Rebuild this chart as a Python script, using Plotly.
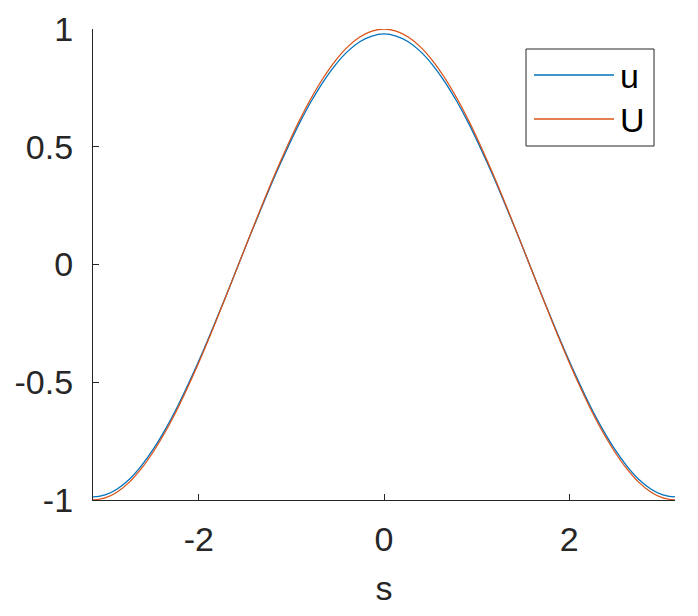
import plotly.graph_objects as go
import math

# sample positions: -pi .. pi in steps of pi/24
s_vals = [-math.pi + k * math.pi / 24 for k in range(49)]

U_half = [-1.000, -0.991, -0.966, -0.924, -0.866, -0.793, -0.707, -0.609, -0.500, -0.383, -0.259, -0.131, 0.000,
          0.131, 0.259, 0.383, 0.500, 0.609, 0.707, 0.793, 0.866, 0.924, 0.966, 0.991, 1.000]
u_half = [-0.987, -0.978, -0.953, -0.912, -0.854, -0.782, -0.697, -0.600, -0.492, -0.377, -0.255, -0.129, 0.000,
          0.129, 0.254, 0.376, 0.490, 0.597, 0.693, 0.777, 0.848, 0.905, 0.946, 0.970, 0.979]
U_vals = U_half + U_half[-2::-1]
u_vals = u_half + u_half[-2::-1]

x_ticks = [-2, 0, 2]
x_tick_text = ["-2", "0", "2"]
y_ticks = [-1, -0.5, 0, 0.5, 1]
y_tick_text = ["-1", "-0.5", "0", "0.5", "1"]
names = ["u", "U"]
colors = ["#0072BD", "#D95319"]

FONT = "Liberation Sans, Arial, sans-serif"
AX = "#262626"
FS = 34

fig = go.Figure()
fig.add_trace(go.Scatter(x=s_vals, y=u_vals, mode="lines", line=dict(color=colors[0], width=1.3, shape="spline"),
                         name=names[0], showlegend=False))
fig.add_trace(go.Scatter(x=s_vals, y=U_vals, mode="lines", line=dict(color=colors[1], width=1.3, shape="spline"),
                         name=names[1], showlegend=False))

W, H = 698, 616
OFF = 8  # page body margin
# plot area in screen pixels
SL, SR, ST, SB = 93, 675, 29, 500
L = SL - OFF
T = ST - OFF
R = W - (SR - OFF)
B = H - (SB - OFF)
pw, ph = SR - SL, SB - ST

def px(x):
    return (x - SL) / pw

def py(y):
    return 1 - (y - ST) / ph

shapes = [dict(type="rect", xref="paper", yref="paper", x0=px(526), x1=px(654), y0=py(146), y1=py(49),
               line=dict(color=AX, width=1), fillcolor="white", layer="above")]
annotations = []
for i, (nm, c, yy) in enumerate(zip(names, colors, [75, 119])):
    shapes.append(dict(type="line", xref="paper", yref="paper", x0=px(534), x1=px(614), y0=py(yy), y1=py(yy),
                       line=dict(color=c, width=1.3), layer="above"))
    annotations.append(dict(xref="paper", yref="paper", x=px(618), y=py(yy + 1), text=nm, showarrow=False,
                            xanchor="left", yanchor="middle", font=dict(family=FONT, size=FS, color="black")))

fig.update_layout(
    width=W, height=H,
    margin=dict(l=L, r=R, t=T, b=B, pad=0),
    paper_bgcolor="white", plot_bgcolor="white",
    font=dict(family=FONT, size=FS, color=AX),
    showlegend=False,
    shapes=shapes, annotations=annotations,
    xaxis=dict(range=[-math.pi, math.pi], tickvals=x_ticks, ticktext=x_tick_text, ticks="inside", ticklen=6,
               tickcolor=AX, automargin=False,
               showline=True, linecolor=AX, linewidth=1.2, showgrid=False, zeroline=False,
               title=dict(text="s", font=dict(size=FS, color=AX), standoff=19),
               tickfont=dict(size=FS, color=AX), ticklabelstandoff=9),
    yaxis=dict(range=[-1, 1], tickvals=y_ticks, ticktext=y_tick_text, ticks="inside", ticklen=6, tickcolor=AX,
               automargin=False,
               showline=True, linecolor=AX, linewidth=1.2, showgrid=False, zeroline=False,
               tickfont=dict(size=FS, color=AX), ticklabelstandoff=12),
)

fig.write_html("out.html")
